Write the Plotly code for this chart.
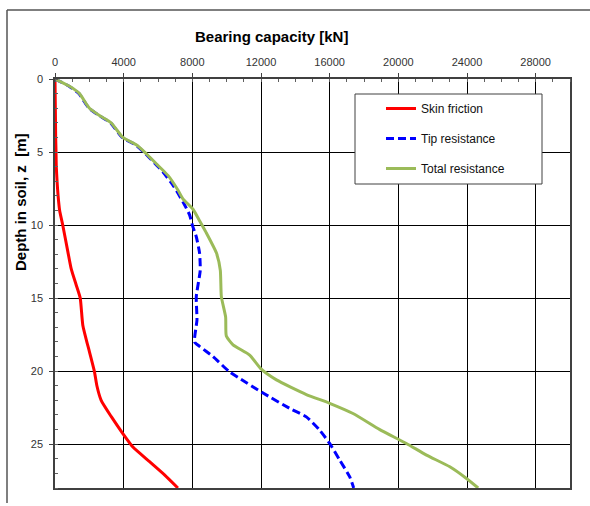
import plotly.graph_objects as go

# ---------------- data ----------------
skin_depth = [0, 2, 4, 5, 6, 7, 8, 9, 10, 11.8, 13.0, 14.1, 15.0, 16.85, 18.7, 20.05,
              21.0, 22.0, 23.1, 24.27, 25.2, 26.2, 27.1, 28.0]
skin_force = [0, 20, 40, 60, 75, 120, 180, 270, 450, 745, 945, 1235, 1470, 1620, 2010, 2300,
              2440, 2690, 3270, 3950, 4540, 5510, 6380, 7160]

tip_depth = [0, 0.5, 1.0, 1.7, 2.0, 2.5, 3.0, 4.0, 4.5, 5.0, 5.4, 6.35, 7.26, 8.4, 9.3,
             10.0, 10.8, 11.9, 13.1, 14.9, 16.5, 18.0, 18.3, 19.0, 20.05, 20.5, 21.5,
             22.55, 23.13, 24.04, 24.95, 26.1, 27.24, 28.0]
tip_force = [0, 820, 1400, 1790, 1980, 2560, 3240, 3910, 4690, 5170, 5510, 6280, 6870, 7450, 7840,
             8000, 8230, 8420, 8460, 8230, 8270, 8130, 8420, 9200, 10170, 10760, 12120,
             13670, 14640, 15420, 16000, 16590, 17170, 17400]

total_depth = [0, 0.5, 1.0, 1.7, 2.0, 2.5, 3.0, 4.0, 4.5, 5.0, 5.8, 6.6, 7.6, 8.2, 8.9,
               9.7, 10.5, 11.9, 13.1, 14.9, 16.3, 17.6, 18.2, 18.9, 19.85, 20.6, 21.6,
               22.2, 22.9, 24.0, 24.95, 25.75, 26.55, 27.35, 28.0]
total_force = [0, 850, 1430, 1820, 2010, 2590, 3270, 3950, 4730, 5220, 5900, 6580, 7160, 7450, 8030,
               8420, 8800, 9400, 9630, 9690, 9940, 9980, 10370, 11340, 12000, 12900, 14640,
               16000, 17360, 18920, 20470, 21640, 23000, 23970, 24650]

x_ticks = [0, 4000, 8000, 12000, 16000, 20000, 24000, 28000]
y_ticks = [0, 5, 10, 15, 20, 25]

# ---------------- layout geometry (pixels) ----------------
W, H = 590, 506
L, R, T, B = 55, 20, 79, 18
PW, PH = W - L - R, H - T - B


def px(xp):
    return (xp - L) / PW


def py(yp):
    return 1 - (yp - T) / PH


FONT = "Liberation Sans, Arial, sans-serif"

fig = go.Figure()
fig.add_trace(go.Scatter(x=skin_force, y=skin_depth, mode="lines", name="Skin friction",
                         line=dict(color="#FF0000", width=3, shape="spline", smoothing=0.5),
                         legendgroup="a"))
fig.add_trace(go.Scatter(x=tip_force, y=tip_depth, mode="lines", name="Tip resistance",
                         line=dict(color="#0000FF", width=3, dash="8px,4px", shape="spline", smoothing=0.5),
                         legendgroup="b"))
fig.add_trace(go.Scatter(x=total_force, y=total_depth, mode="lines", name="Total resistance",
                         line=dict(color="#9BBB59", width=3, shape="spline", smoothing=0.5),
                         legendgroup="c"))

fig.update_layout(
    width=W, height=H,
    margin=dict(l=L, r=R, t=T, b=B),
    paper_bgcolor="white", plot_bgcolor="white",
    font=dict(family=FONT, size=11, color="#222222"),
    showlegend=True,
    legend=dict(x=px(381), y=py(94), xanchor="left", yanchor="top",
                bgcolor="rgba(0,0,0,0)", borderwidth=0,
                font=dict(family=FONT, size=12, color="#111111"),
                tracegroupgap=11, itemwidth=30),
    xaxis=dict(side="top", range=[0, 30000], tickvals=x_ticks, ticktext=[str(v) for v in x_ticks],
               showgrid=True, gridcolor="#000000", gridwidth=1, zeroline=False,
               showline=True, linecolor="#404040", linewidth=1.5, mirror=True,
               ticks="outside", ticklen=4, tickcolor="#404040", tickwidth=1,
               ticklabelstandoff=3,
               minor=dict(dtick=1000, tick0=0, ticks="inside", ticklen=3, tickcolor="#606060",
                          showgrid=False),
               tickfont=dict(family=FONT, size=11, color="#333333"), fixedrange=True),
    yaxis=dict(range=[28, 0], tickvals=y_ticks, ticktext=[str(v) for v in y_ticks],
               showgrid=True, gridcolor="#000000", gridwidth=1, zeroline=False,
               showline=True, linecolor="#404040", linewidth=1.5, mirror=True,
               ticks="outside", ticklen=4, tickcolor="#404040", tickwidth=1,
               ticklabelstandoff=4,
               minor=dict(dtick=1, tick0=0, ticks="inside", ticklen=3, tickcolor="#606060",
                          showgrid=False),
               tickfont=dict(family=FONT, size=11, color="#333333"), fixedrange=True),
    shapes=[
        # legend box
        dict(type="rect", xref="paper", yref="paper", x0=px(355), x1=px(542), y0=py(184), y1=py(94),
             line=dict(color="#404040", width=1), fillcolor="white", layer="above"),
        # outer chart-area frame
        dict(type="line", xref="paper", yref="paper", x0=px(7), x1=px(590), y0=py(10), y1=py(10),
             line=dict(color="#555555", width=1.5)),
        dict(type="line", xref="paper", yref="paper", x0=px(7), x1=px(7), y0=py(10), y1=py(503),
             line=dict(color="#555555", width=1.5)),
    ],
    annotations=[
        dict(text="<b>Bearing capacity [kN]</b>", xref="paper", yref="paper",
             x=px(271), y=py(36), xanchor="center", yanchor="middle", showarrow=False,
             font=dict(family=FONT, size=15, color="#000000")),
        dict(text="<b>Depth in soil, z\u00a0 [m]</b>", xref="paper", yref="paper",
             x=px(20), y=py(202), xanchor="center", yanchor="middle", showarrow=False,
             textangle=-90, font=dict(family=FONT, size=15, color="#000000")),
    ],
)

fig.write_html("out.html")
